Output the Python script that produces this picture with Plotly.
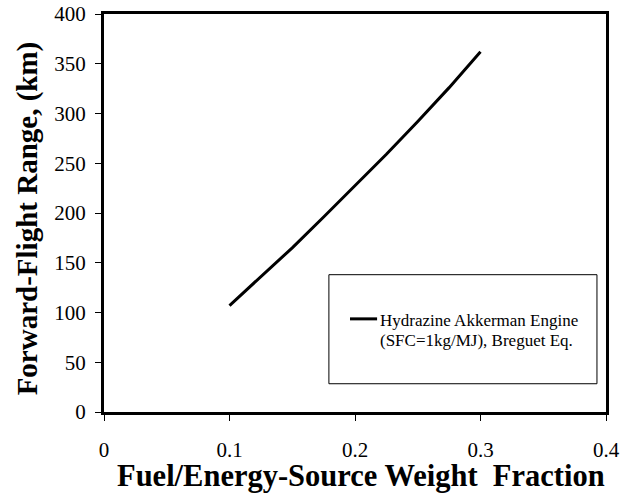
import plotly.graph_objects as go

# Fuel / energy-source weight fraction and resulting forward-flight range (km)
fuel_fraction = [0.10, 0.125, 0.15, 0.175, 0.20, 0.225, 0.25, 0.275, 0.30]
range_km = [107, 136, 165, 196, 227, 259, 292, 326, 362]
series_name_lines = ["Hydrazine Akkerman Engine", "(SFC=1kg/MJ), Breguet Eq."]

x_ticks = [0, 0.1, 0.2, 0.3, 0.4]
x_tick_text = ["0", "0.1", "0.2", "0.3", "0.4"]
y_ticks = [0, 50, 100, 150, 200, 250, 300, 350, 400]

x_title = "Fuel/Energy-Source Weight \u00a0Fraction"
y_title = "Forward-Flight Range, (km)"

serif = "Liberation Serif"

fig = go.Figure()
fig.add_trace(go.Scatter(
    x=fuel_fraction, y=range_km, mode="lines",
    line=dict(color="black", width=3), name=" ".join(series_name_lines), showlegend=False,
))

# Legend frame, sample line and label
fig.add_shape(type="rect", xref="paper", yref="paper",
              x0=0.448, x1=0.982, y0=0.071, y1=0.345,
              line=dict(color="black", width=1), fillcolor="white", layer="below")
fig.add_shape(type="line", xref="paper", yref="paper",
              x0=0.490, x1=0.544, y0=0.234, y1=0.234,
              line=dict(color="black", width=3))
for i, line_text in enumerate(series_name_lines):
    fig.add_annotation(xref="paper", yref="paper", x=0.546, y=0.229 - i * 0.05,
                       text=line_text, showarrow=False, xanchor="left", yanchor="middle",
                       align="left", font=dict(family=serif, size=17, color="black"))

# Axis titles
fig.add_annotation(xref="paper", yref="paper", x=0.512, y=-0.16, text="<b>" + x_title + "</b>",
                   showarrow=False, xanchor="center", yanchor="middle",
                   font=dict(family=serif, size=30.5, color="black"))
fig.add_annotation(xref="paper", yref="paper", x=-0.153, y=0.487, text="<b>" + y_title + "</b>",
                   showarrow=False, xanchor="center", yanchor="middle", textangle=-90,
                   font=dict(family=serif, size=29, color="black"))

axis_common = dict(
    showgrid=False, zeroline=False, showline=True, linecolor="black", linewidth=3,
    mirror=True, ticks="outside", tickcolor="black", tickwidth=1, ticklen=6,
    tickfont=dict(family=serif, size=21, color="black"), automargin=False,
)

fig.update_xaxes(range=[0, 0.4], tickvals=x_ticks, ticktext=x_tick_text,
                 ticklabelstandoff=11, **axis_common)
fig.update_yaxes(range=[0, 400], tickvals=y_ticks, ticklabelstandoff=5, **axis_common)

fig.update_layout(
    width=630, height=494,
    margin=dict(l=104, r=24, t=14, b=82),
    paper_bgcolor="white", plot_bgcolor="white",
)

fig.write_html("out.html")
